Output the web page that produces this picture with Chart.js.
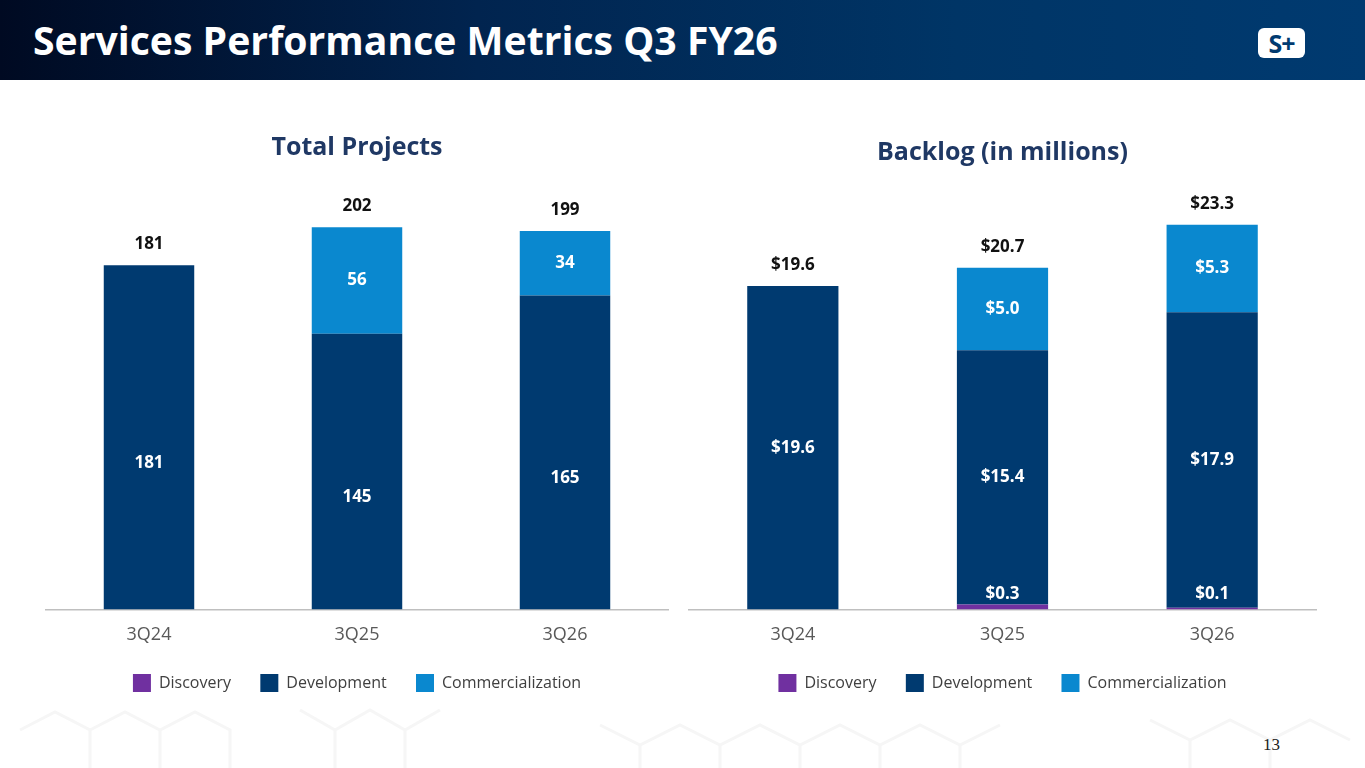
<!DOCTYPE html>
<html>
<head>
<meta charset="utf-8">
<script src="https://cdn.jsdelivr.net/npm/chart.js@4.4.1/dist/chart.umd.min.js"></script>
<style>
  body { margin: 0; width: 1365px; height: 768px; background: #fff; position: relative; overflow: hidden; font-family: "Open Sans", sans-serif; }
  #header { position: absolute; left: 0; top: 0; width: 1365px; height: 80px;
    background: linear-gradient(90deg, #000a22 0%, #01244f 35%, #003566 70%, #003a70 100%); }
  #title { position: absolute; left: 33px; top: 12px; color: #fff; font-weight: 700; font-size: 40px;
    white-space: nowrap; transform-origin: left center; }
  #logo { position: absolute; left: 1258px; top: 28px; width: 47px; height: 30px; background: #fff; border-radius: 6px;
    color: #003a70; font: 700 25px/30px "Open Sans", sans-serif; text-align: center; letter-spacing: -1px; }
  .box { position: absolute; }
  #pageNo { position: absolute; left: 1263px; top: 735px; font: 17px "Liberation Serif", serif; color: #222; }
  #hex { position: absolute; left: 0; top: 690px; }
</style>
</head>
<body>
<div id="header"><div id="title">Services Performance Metrics Q3 FY26</div><div id="logo">S+</div></div>
<svg id="hex" width="1365" height="78">
  <g fill="none" stroke="#f6f6f6" stroke-width="3">
    <path d="M20,40 L55,22 L90,40 L90,78 M90,40 L125,22 L160,40 L195,22 L230,40 L230,78 M160,40 L160,78"/>
    <path d="M300,20 L335,40 L370,20 L405,40 L440,20 M335,40 L335,78 M405,40 L405,78"/>
    <path d="M600,35 L640,55 L680,35 L720,55 L760,35 L800,55 L840,35 L880,55 L920,35 L960,55 L1000,35 M640,55 L640,78 M720,55 L720,78 M800,55 L800,78 M880,55 L880,78 M960,55 L960,78"/>
    <path d="M1150,30 L1190,50 L1230,30 L1270,50 L1310,30 L1350,50 M1190,50 L1190,78 M1270,50 L1270,78"/>
  </g>
</svg>
<div class="box" style="left:45px; top:112px; width:624px; height:590px;"><canvas id="projects"></canvas></div>
<div class="box" style="left:688px; top:117px; width:629px; height:585px;"><canvas id="backlog"></canvas></div>
<div id="pageNo">13</div>
<script>
// dữ liệu
const quarters = ["3Q24", "3Q25", "3Q26"];
const seriesNames = ["Discovery", "Development", "Commercialization"];
const projDiscovery = [0, 0, 0];
const projDevelopment = [181, 145, 165];
const projCommercial = [0, 56, 34];
const projTotals = [181, 202, 199];
const backDiscovery = [0, 0.3, 0.1];
const backDevelopment = [19.6, 15.4, 17.9];
const backCommercial = [0, 5.0, 5.3];
const backTotals = [19.6, 20.7, 23.3];

const colors = ["#7030a0", "#003a70", "#0a88cf"];
const fontFam = "'Open Sans', sans-serif";

// fit the page title to the original width
const t = document.getElementById("title");
t.style.transform = "scaleX(" + (745 / t.offsetWidth) + ")";

// plugin vẽ nhãn trên cột
const segLabels = {
  id: "segLabels",
  afterDatasetsDraw(chart, args, opts) {
    const ctx = chart.ctx;
    ctx.save();
    ctx.textAlign = "center";
    ctx.textBaseline = "middle";
    ctx.font = "bold 17px " + fontFam;
    const n = chart.data.labels.length;
    for (let j = 0; j < n; j++) {
      let topY = null, x = null;
      chart.data.datasets.forEach((ds, i) => {
        const el = chart.getDatasetMeta(i).data[j];
        const v = ds.data[j];
        x = el.x;
        if (v <= 0) return;
        if (topY === null || el.y < topY) topY = el.y;
        ctx.fillStyle = "#ffffff";
        if (i === 0) {
          // discovery: nhãn nằm ở đáy cột
          ctx.fillText(opts.fmt(v), el.x, el.base - 15);
        } else {
          const off = (opts.offsets && opts.offsets[i]) || 0;
          ctx.fillText(opts.fmt(v), el.x, (el.y + el.base) / 2 + off);
        }
      });
      ctx.fillStyle = "#111111";
      ctx.fillText(opts.fmt(opts.totals[j]), x, topY - 21);
    }
    ctx.restore();
  }
};

function makeChart(id, title, d1, d2, d3, totals, yMax, fmt, offsets) {
  const ctx = document.getElementById(id).getContext("2d");
  return new Chart(ctx, {
    type: "bar",
    data: {
      labels: quarters,
      datasets: [
        { label: seriesNames[0], data: d1, backgroundColor: colors[0] },
        { label: seriesNames[1], data: d2, backgroundColor: colors[1] },
        { label: seriesNames[2], data: d3, backgroundColor: colors[2] }
      ]
    },
    options: {
      responsive: true,
      maintainAspectRatio: false,
      animation: false,
      datasets: { bar: { categoryPercentage: 1, barPercentage: 0.435, borderWidth: 0 } },
      layout: { padding: 0 },
      scales: {
        x: {
          stacked: true,
          grid: { display: false },
          border: { display: true, color: "#bfbfbf", width: 1.5 },
          ticks: { color: "#595959", font: { family: fontFam, size: 18 }, padding: 7 }
        },
        y: { stacked: true, display: false, min: 0, max: yMax }
      },
      plugins: {
        title: {
          display: true, text: title, color: "#1f3864",
          font: { family: fontFam, size: 25, weight: "bold" },
          padding: { top: 21, bottom: 9 }
        },
        legend: {
          position: "bottom",
          labels: {
            boxWidth: 18, boxHeight: 18, color: "#404040", padding: 21,
            font: { family: fontFam, size: 16 },
            // thêm khoảng trắng sau chữ để giãn các mục chú thích
            generateLabels(chart) {
              const items = Chart.defaults.plugins.legend.labels.generateLabels(chart);
              items.forEach((it, k) => { if (k < items.length - 1) it.text = it.text + "  "; });
              return items;
            }
          }
        },
        tooltip: { enabled: false },
        segLabels: { fmt: fmt, offsets: offsets, totals: totals }
      }
    },
    plugins: [segLabels]
  });
}

makeChart("projects", "Total Projects", projDiscovery, projDevelopment, projCommercial, projTotals,
  230, v => String(v), { 1: 26 });
makeChart("backlog", "Backlog (in millions)", backDiscovery, backDevelopment, backCommercial, backTotals,
  26.2, v => "$" + v.toFixed(1), {});
</script>
</body>
</html>
